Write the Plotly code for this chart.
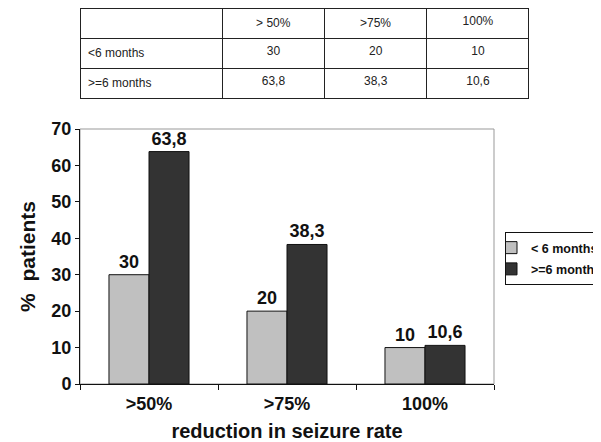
import plotly.graph_objects as go

# ---- data ----
categories = [">50%", ">75%", "100%"]
table_headers = ["> 50%", ">75%", "100%"]
table_row_labels = ["<6 months", ">=6 months"]
series_names = ["< 6 months", ">=6 months"]
lt6_values = [30, 20, 10]
ge6_values = [63.8, 38.3, 10.6]
y_ticks = [0, 10, 20, 30, 40, 50, 60, 70]


def fmt(v):
    return f"{v:g}".replace(".", ",")


# the page body has an 8px margin, so the figure is drawn 8px smaller and
# all reference pixel positions are shifted by 8px
OFF = 8
W, H = 601 - OFF, 442 - OFF


def px(x):
    return (x - OFF) / W


def py(y):
    return (H - (y - OFF)) / H


FONT = "Liberation Sans, Arial, sans-serif"
BOLD = "bold"

fig = go.Figure()

# ---- table ----
fig.add_trace(go.Table(
    domain=dict(x=[px(80), px(529)], y=[py(140), py(8)]),
    columnwidth=[142, 102, 102, 102],
    header=dict(
        values=[""] + table_headers,
        fill_color="white",
        line=dict(color="#222222", width=1),
        font=dict(family=FONT, size=12, color="#222222"),
        align=["left", "center", "center", "center"],
        height=22,
    ),
    cells=dict(
        values=[table_row_labels] + [[fmt(a), fmt(b)] for a, b in zip(lt6_values, ge6_values)],
        fill_color="white",
        line=dict(color="#222222", width=1),
        font=dict(family=FONT, size=12, color="#222222"),
        align=["left", "center", "center", "center"],
        height=22,
    ),
))

# ---- bars ----
bar_font = dict(family=FONT, size=18, color="#111111", weight=BOLD)
fig.add_trace(go.Bar(
    x=categories, y=lt6_values, name=series_names[0],
    marker=dict(color="#c0c0c0", line=dict(color="#111111", width=1)),
    text=[fmt(v) for v in lt6_values], textposition="outside",
    textfont=bar_font, cliponaxis=False, legendgroup="a",
))
fig.add_trace(go.Bar(
    x=categories, y=ge6_values, name=series_names[1],
    marker=dict(color="#333333", line=dict(color="#111111", width=1)),
    text=[fmt(v) for v in ge6_values], textposition="outside",
    textfont=bar_font, cliponaxis=False, legendgroup="b",
))

fig.update_layout(
    width=W, height=H,
    margin=dict(l=0, r=0, t=0, b=0, autoexpand=False),
    paper_bgcolor="white", plot_bgcolor="white",
    font=dict(family=FONT, color="#111111"),
    barmode="group", bargap=0.42, bargroupgap=0,
    showlegend=True,
    legend=dict(
        xref="container", yref="container",
        x=px(505), y=py(232), xanchor="left", yanchor="top",
        bordercolor="#111111", borderwidth=1, bgcolor="white",
        font=dict(family=FONT, size=12.5, color="#111111", weight=BOLD),
        tracegroupgap=2, indentation=-15,
    ),
    xaxis=dict(
        domain=[px(80), px(494)], type="category",
        showline=True, linecolor="#111111", linewidth=1,
        ticks="outside", tickson="boundaries", ticklen=5, tickcolor="#111111",
        tickfont=dict(family=FONT, size=18, color="#111111", weight=BOLD),
        ticklabelstandoff=3,
        title=dict(text="reduction in seizure rate",
                   font=dict(family=FONT, size=20, color="#111111", weight=BOLD), standoff=12),
        automargin=False, showgrid=False,
    ),
    yaxis=dict(
        domain=[py(384), py(129)], range=[0, 70],
        tickvals=y_ticks,
        showline=True, linecolor="#111111", linewidth=1,
        ticks="outside", ticklen=4, tickcolor="#111111",
        tickfont=dict(family=FONT, size=18, color="#111111", weight=BOLD),
        title=dict(text="%  patients",
                   font=dict(family=FONT, size=21, color="#111111", weight=BOLD), standoff=10),
        automargin=False, showgrid=False, zeroline=False,
    ),
    shapes=[dict(type="rect", xref="x domain", yref="y domain",
                 x0=0, x1=1, y0=0, y1=1, line=dict(color="#999999", width=1),
                 layer="below")],
)

fig.write_html("out.html")
